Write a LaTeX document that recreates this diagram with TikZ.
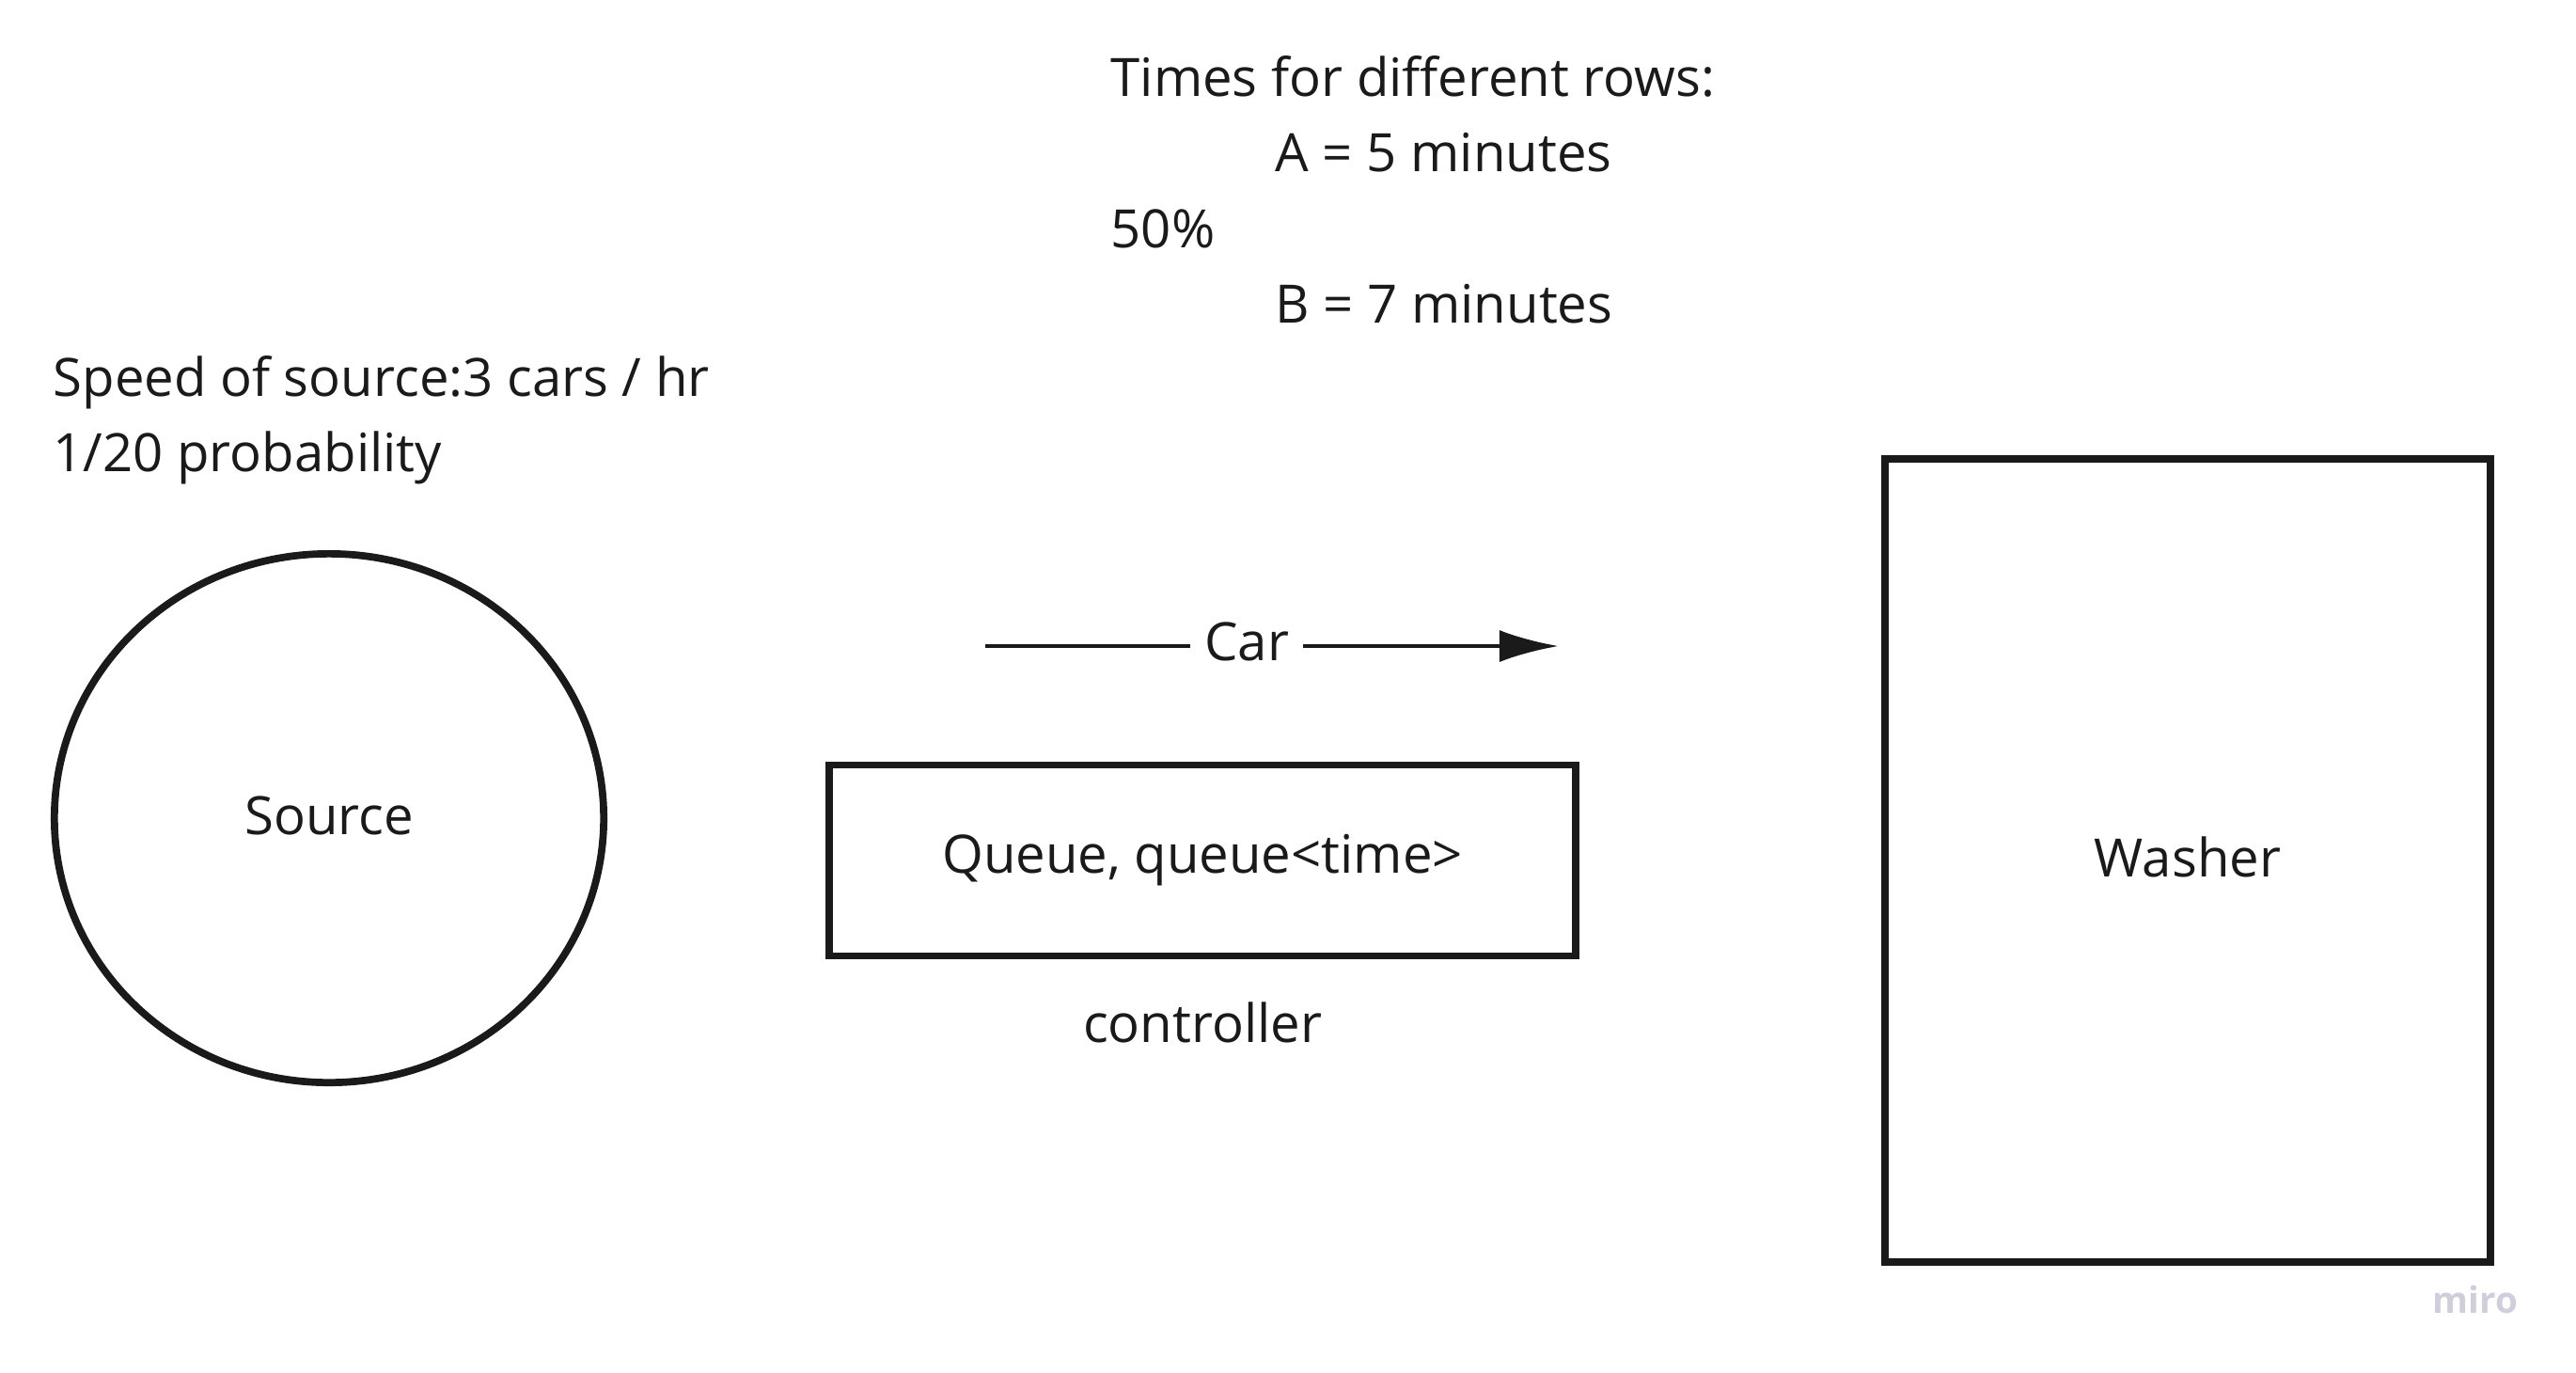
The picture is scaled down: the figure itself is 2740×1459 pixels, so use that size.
\documentclass[tikz,border=0pt]{standalone}
\usepackage{fontspec}
\setmainfont{Open Sans}
\usetikzlibrary{shapes,arrows,arrows.meta,positioning}
\definecolor{ink}{RGB}{26,26,26}
\definecolor{mirogrey}{RGB}{208,206,218}
\tikzstyle{block} = [rectangle, draw=ink, line width=2.2pt, inner sep=0pt]
\tikzstyle{line} = [draw=ink, line width=1.3pt, -{Latex[length=6.3mm,width=3.4mm]}]
\tikzstyle{note} = [anchor=west, inner sep=0pt]

\begin{document}
\begin{tikzpicture}[x=0.01cm, y=-0.01cm, text=ink, font=\fontsize{16}{19}\selectfont]
			\useasboundingbox (0,0) rectangle (2740,1459);
			% Place nodes
			\node [ellipse, draw=ink, line width=2.2pt, minimum width=5.84cm, minimum height=5.62cm, text depth=0.15em] (source) at (350,870) {Source};
			\node [block, minimum width=7.94cm, minimum height=2.03cm] (queue) at (1279,915) {Queue, queue<time>};
			\node [below of=queue, node distance=1.72cm] (ctrl) {controller};
			\node [block, minimum width=6.43cm, minimum height=8.53cm, text depth=0.2em] (washer) at (2327,915) {Washer};
			% Notes
			\node [note] (speed) at (56,407) {Speed of source:3 cars / hr};
			\node [note] (prob) at (56,487) {1/20 probability};
			\node [note] (times) at (1181,81) {Times for different rows:};
			\node [note] (rowa) at (1356,162) {A = 5 minutes};
			\node [note] (half) at (1181,243) {50\%};
			\node [note] (rowb) at (1356,323) {B = 7 minutes};
			\node [text=mirogrey, font=\fontsize{11}{13}\selectfont\bfseries] (miro) at (2633,1382) {miro};
			% Draw edges
			\coordinate (carstart) at (1048,687);
			\coordinate (carend) at (1658,687);
			\path [line] (carstart) -- node [pos=0.456, fill=white, inner xsep=0.15cm, inner ysep=2pt, yshift=0.05cm] (car) {Car} (carend);
	\end{tikzpicture}
\end{document}
